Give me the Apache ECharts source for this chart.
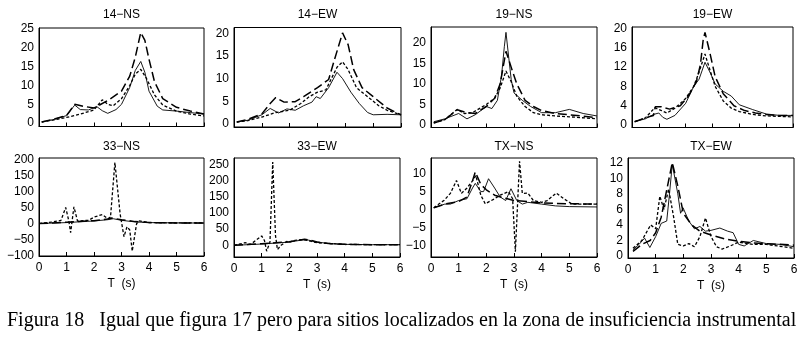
<!DOCTYPE html>
<html>
<head>
<meta charset="utf-8">
<script src="https://cdn.jsdelivr.net/npm/echarts@6.0.0/dist/echarts.min.js"></script>
<style>
html, body { margin: 0; padding: 0; background: #fff; }
#main { width: 812px; height: 344px; }
</style>
</head>
<body>
<div id="main"></div>
<script>
// panel titles
var titles = ['14−NS', '14−EW', '19−NS', '19−EW', '33−NS', '33−EW', 'TX−NS', 'TX−EW']
var caption = 'Figura 18   Igual que figura 17 pero para sitios localizados en la zona de insuficiencia instrumental'

// y tick labels of each panel
var yTicks = [
	[0, 5, 10, 15, 20, 25],
	[0, 5, 10, 15, 20],
	[0, 5, 10, 15, 20],
	[0, 4, 8, 12, 16, 20],
	[-100, -50, 0, 50, 100, 150, 200],
	[0, 50, 100, 150, 200, 250],
	[-10, -5, 0, 5, 10],
	[0, 2, 4, 6, 8, 10, 12]
]
var xTicks = [0, 1, 2, 3, 4, 5, 6]

// spectra [T (s), value] -- solid, long dash, short dash
var ns14Solid = [[0.1,0.3],[0.5,0.9],[1.0,2.0],[1.3,4.8],[1.5,3.6],[1.8,3.5],[2.1,4.4],[2.3,3.3],[2.5,2.6],[2.8,3.6],[3.0,5.0],[3.3,9.5],[3.5,14],[3.7,16.4],[3.85,13.5],[4.0,8.5],[4.3,4.5],[4.5,3.5],[5.0,3.2],[5.5,2.8],[6.0,2.4]]
var ns14Long = [[0.1,0.3],[0.5,1.0],[1.0,2.0],[1.3,5.0],[1.6,4.5],[2.0,4.0],[2.5,6.0],[3.0,8.5],[3.3,12.5],[3.5,17.5],[3.7,24.1],[3.85,22],[4.0,17],[4.2,11],[4.5,6.5],[5.0,4.2],[5.5,3.2],[6.0,2.4]]
var ns14Short = [[0.1,0.3],[0.5,0.8],[1.0,1.5],[1.5,2.4],[2.0,3.5],[2.3,6.2],[2.5,5.0],[2.7,4.6],[3.0,6.5],[3.3,10],[3.5,13],[3.7,14.3],[3.9,12],[4.2,7.5],[4.5,4.8],[5.0,3.2],[5.5,2.4],[6.0,1.9]]

var ew14Solid = [[0.1,0.4],[0.5,0.8],[1.0,2.0],[1.3,3.4],[1.6,2.4],[1.9,3.3],[2.2,3.0],[2.5,4.0],[2.8,4.8],[2.95,6.0],[3.1,5.6],[3.4,8.0],[3.7,11.4],[3.9,10],[4.2,7],[4.5,4.5],[4.8,2.5],[5.0,2.0],[5.5,2.1],[6.0,2.0]]
var ew14Long = [[0.1,0.4],[0.5,1.0],[1.0,2.2],[1.3,4.5],[1.5,5.8],[1.8,4.8],[2.2,4.9],[2.5,6.0],[3.0,8.0],[3.4,9.8],[3.6,14],[3.9,20.1],[4.1,17.5],[4.3,12],[4.6,8],[5.0,6],[5.5,3.5],[6.0,2.0]]
var ew14Short = [[0.1,0.4],[0.5,0.7],[1.0,1.5],[1.5,2.5],[2.0,3.0],[2.4,4.5],[2.7,6.0],[3.0,7.0],[3.3,7.5],[3.5,10],[3.7,12.5],[3.9,13.7],[4.1,12],[4.4,8],[4.8,6],[5.2,4],[5.5,3],[6.0,2.0]]

var ns19Solid = [[0.1,0.8],[0.5,1.5],[1.0,2.8],[1.3,1.5],[1.6,2.5],[2.0,4.5],[2.2,4.0],[2.4,6.0],[2.55,12],[2.65,19],[2.71,22.5],[2.8,17],[2.9,11],[3.0,7.8],[3.3,6],[3.6,4.5],[4.0,3.0],[4.5,3.0],[5.0,3.8],[5.5,2.8],[6.0,2.2]]
var ns19Long = [[0.1,0.5],[0.5,1.3],[0.95,3.7],[1.3,3.0],[1.6,2.8],[2.0,4.5],[2.3,6.5],[2.5,10],[2.71,17.9],[2.9,14],[3.1,10],[3.4,6],[3.7,4.5],[4.0,3.5],[4.5,2.8],[5.0,2.5],[6.0,1.8]]
var ns19Short = [[0.1,0.5],[0.5,1.3],[0.95,3.8],[1.2,2.8],[1.5,3.0],[2.0,5.0],[2.3,6.5],[2.5,9.0],[2.71,13.1],[2.9,10.5],[3.1,7],[3.4,4.5],[3.7,3.0],[4.0,2.5],[4.5,2.2],[5.0,2.0],[6.0,1.5]]

var ew19Solid = [[0.1,0.7],[0.5,1.3],[0.8,2.2],[1.0,2.5],[1.15,1.6],[1.3,1.2],[1.6,2.0],[2.0,4.5],[2.3,8.0],[2.5,9.5],[2.72,13],[2.9,11],[3.1,8.5],[3.4,7],[3.7,6],[4.0,4.2],[4.5,3.2],[5.0,2.3],[5.5,2.0],[6.0,2.0]]
var ew19Long = [[0.1,0.7],[0.5,1.5],[0.8,2.0],[0.87,3.8],[1.1,3.8],[1.4,3.3],[1.8,4.0],[2.1,6.0],[2.4,9.0],[2.55,12.5],[2.65,17.5],[2.72,19.2],[2.9,15],[3.1,10],[3.4,6.5],[3.8,4.0],[4.2,3.0],[4.6,2.5],[5.0,2.2],[5.4,2.0],[6.0,2.0]]
var ew19Short = [[0.1,0.7],[0.5,1.5],[0.85,3.6],[1.1,3.0],[1.3,2.5],[1.6,3.5],[2.0,5.5],[2.3,8.0],[2.5,11],[2.72,14.7],[2.9,11.5],[3.1,8],[3.4,5],[3.7,3.5],[4.0,2.8],[4.5,2.2],[5.0,1.9],[6.0,1.7]]

var ns33Solid = [[0,0],[1,3],[2,8],[2.5,12],[2.7,15],[3,10],[3.5,5],[4,3],[5,2],[6,1.5]]
var ns33Long = [[0,0],[1,4],[2,9],[2.5,14],[2.65,17],[3,12],[3.5,6],[4,3],[5,2],[6,2]]
var ns33Short = [[0,0],[0.5,5],[0.8,10],[0.97,50],[1.08,10],[1.15,-28],[1.27,52],[1.4,8],[1.8,10],[2.0,20],[2.3,28],[2.5,15],[2.6,20],[2.76,190],[2.95,30],[3.09,-41],[3.2,-10],[3.3,-20],[3.39,-86],[3.55,0],[3.65,8],[4.0,3],[5.0,2],[6.0,2]]

var ew33Solid = [[0,0],[1,4],[2,10],[2.5,17],[2.7,16],[3,10],[3.5,5],[4,3],[5,2],[6,2]]
var ew33Long = [[0,0],[1,5],[2,11],[2.55,19],[2.8,15],[3,10],[3.5,5],[4,3],[5,2],[6,2]]
var ew33Short = [[0,0],[0.4,8],[0.6,3],[1.0,29],[1.1,15],[1.18,-18],[1.3,10],[1.4,257],[1.5,30],[1.57,-13],[1.7,0],[1.9,12],[2.0,10],[2.2,15],[2.5,18],[2.8,12],[3.0,8],[4.0,3],[5.0,2],[6.0,2]]

var nsTxSolid = [[0.1,0.5],[0.5,1.5],[0.7,1.5],[1.0,2.5],[1.3,3],[1.5,6],[1.6,7.3],[1.8,5],[1.9,5],[2.08,8.6],[2.3,6],[2.5,3.5],[2.7,2.5],[2.89,5.8],[3.1,2.5],[3.3,1.5],[3.5,2],[4.0,1.5],[4.5,1.0],[5.0,0.8],[6.0,0.7]]
var nsTxLong = [[0.1,0.5],[0.5,1.5],[1.0,2.2],[1.3,3.5],[1.5,8],[1.6,10.5],[1.8,7],[2.0,5.5],[2.3,4],[2.6,3.3],[3.0,2.5],[3.5,2.2],[4.0,1.8],[4.5,1.7],[5.0,1.6],[6.0,1.5]]
var nsTxShort = [[0.1,0.5],[0.48,2.6],[0.7,4.5],[0.92,8.1],[1.1,4.5],[1.3,6],[1.5,8],[1.62,9.5],[1.8,4],[1.96,1.6],[2.3,3],[2.5,4],[2.8,5],[2.95,3],[3.05,-11.8],[3.2,13.5],[3.3,4.5],[3.5,4.6],[3.7,2.5],[4.0,2.0],[4.2,2.5],[4.53,4.6],[4.8,3],[5.1,1.5],[5.5,1.5],[6.0,1.5]]

var ewTxSolid = [[0.18,0.8],[0.4,1.5],[0.6,2.3],[0.79,1.1],[1.0,2.5],[1.2,4.2],[1.4,4.5],[1.5,8],[1.6,11.8],[1.8,8],[1.9,5.5],[1.99,6.2],[2.2,4.5],[2.4,3.5],[2.6,3.8],[2.8,3.2],[3.0,3.3],[3.32,3.6],[3.6,3.2],[3.8,3.0],[4.0,1.5],[4.2,1.3],[4.53,2.0],[5.0,1.6],[5.5,1.5],[6.0,1.2]]
var ewTxLong = [[0.18,0.6],[0.5,1.5],[0.8,2.0],[1.0,3.0],[1.2,5.0],[1.4,8.5],[1.6,12],[1.8,9],[2.0,5.5],[2.3,4.0],[2.6,3.2],[3.0,2.7],[3.5,2.2],[4.0,1.9],[4.5,1.7],[5.0,1.6],[6.0,1.4]]
var ewTxShort = [[0.18,1.0],[0.5,2.0],[0.82,4.0],[1.0,3.5],[1.15,7.7],[1.3,6],[1.47,8.6],[1.65,5],[1.8,1.5],[2.0,1.3],[2.2,1.6],[2.4,1.2],[2.6,2.5],[2.8,4.9],[3.0,2.5],[3.2,1.2],[3.4,0.9],[3.7,1.3],[4.0,1.8],[4.5,1.5],[5.0,1.5],[6.0,1.0]]

var panels = [
	[ns14Solid, ns14Long, ns14Short],
	[ew14Solid, ew14Long, ew14Short],
	[ns19Solid, ns19Long, ns19Short],
	[ew19Solid, ew19Long, ew19Short],
	[ns33Solid, ns33Long, ns33Short],
	[ew33Solid, ew33Long, ew33Short],
	[nsTxSolid, nsTxLong, nsTxShort],
	[ewTxSolid, ewTxLong, ewTxShort]
]

// layout: plot boxes [left, top, width, height] and y extents
var boxes = [
	[39, 28, 165, 98.5], [234, 27.5, 167, 99.5], [431, 27, 166, 100.5], [632, 27, 161, 100.5],
	[39, 158, 165, 98], [234, 158, 166, 99], [431, 158, 166, 99], [628, 158, 166, 100]
]
var yExt = [[-0.9, 25.3], [-0.7, 21.3], [-0.6, 23.8], [-0.5, 20.3], [-101, 204], [-36, 269.5], [-13.3, 14.4], [-0.25, 12.6]]

var lineStyles = [
	{ color: '#000', width: 0.9, type: 'solid' },
	{ color: '#000', width: 1.5, type: [9, 4] },
	{ color: '#000', width: 1.3, type: [3, 2] }
]

var font = '"Liberation Sans", Arial, sans-serif'
var grids = [], xAxes = [], yAxes = [], series = [], graphics = []

for (var i = 0; i < 8; i++) {
	var b = boxes[i]
	var bottomRow = i >= 4
	grids.push({ left: b[0], top: b[1], width: b[2], height: b[3], show: true, borderColor: '#000', borderWidth: 1, backgroundColor: 'transparent' })
	xAxes.push({
		type: 'value', gridIndex: i, min: 0, max: 6, interval: 1,
		name: bottomRow ? 'T  (s)' : '', nameLocation: 'middle', nameGap: 22,
		nameTextStyle: { color: '#000', fontFamily: font, fontSize: 12 },
		axisLine: { show: true, onZero: false, lineStyle: { color: '#000', width: 1 } },
		axisTick: { show: true, inside: true, length: 4, lineStyle: { color: '#000' } },
		axisLabel: { show: bottomRow, color: '#000', fontFamily: font, fontSize: 12, margin: 6, customValues: xTicks },
		splitLine: { show: false }
	})
	yAxes.push({
		type: 'value', gridIndex: i, min: yExt[i][0], max: yExt[i][1],
		axisLine: { show: true, onZero: false, lineStyle: { color: '#000', width: 1 } },
		axisTick: { show: false },
		axisLabel: {
			color: '#000', fontFamily: font, fontSize: 12, margin: 5, customValues: yTicks[i],
			formatter: function (v) { return String(v).replace('-', '−') }
		},
		splitLine: { show: false }
	})
	for (var k = 0; k < 3; k++) {
		series.push({
			type: 'line', xAxisIndex: i, yAxisIndex: i, data: panels[i][k],
			showSymbol: false, symbol: 'none', clip: true, silent: true,
			lineStyle: lineStyles[k], z: 3 - k
		})
	}
	graphics.push({
		type: 'text', x: b[0] + b[2] / 2, y: bottomRow ? 141 : 9,
		style: { text: titles[i], fill: '#000', font: '12px ' + font, textAlign: 'center', textVerticalAlign: 'top' }
	})
}

graphics.push({
	type: 'text', x: 7, y: 321,
	style: { text: caption, fill: '#000', font: '20px "Liberation Serif", "Times New Roman", serif', textVerticalAlign: 'middle' }
})

var mychart = echarts.init(document.getElementById('main'), null, { renderer: 'canvas' })
mychart.setOption({
	animation: false,
	backgroundColor: '#fff',
	grid: grids,
	xAxis: xAxes,
	yAxis: yAxes,
	series: series,
	graphic: graphics
})
</script>
</body>
</html>
